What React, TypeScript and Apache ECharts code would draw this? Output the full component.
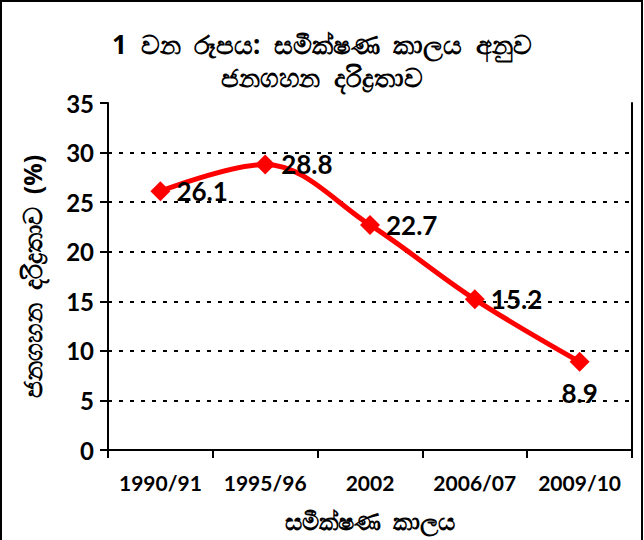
import React, { useEffect, useRef } from "react";
import * as echarts from "echarts";

const categories = ["1990/91", "1995/96", "2002", "2006/07", "2009/10"];
const povertyValues = [26.1, 28.8, 22.7, 15.2, 8.9];
const titleText = "1  වන  රූපය:  සමීක්ෂණ  කාලය  අනුව\nජනගහන  දරිද්‍රතාව";
const yAxisName = "ජනගහන  දරිද්‍රතාව  (%)";
const xAxisName = "සමීක්ෂණ  කාලය";

export default function App() {
  const ref = useRef<HTMLDivElement>(null);
  useEffect(() => {
    if (!ref.current) return;
    const chart = echarts.init(ref.current, null, { renderer: "svg" });
    const font = "Lato, 'Open Sans', 'Noto Sans', sans-serif";
    const sinhala = "'Noto Sans', 'DejaVu Sans', sans-serif";
    const last = povertyValues.length - 1;
    chart.setOption({
      animation: false,
      backgroundColor: "#fff",
      title: {
        text: titleText,
        left: "center",
        top: 22,
        textStyle: {
          fontFamily: sinhala,
          fontWeight: "bold",
          fontSize: 26,
          lineHeight: 33,
          color: "#000",
        },
      },
      graphic: [
        {
          type: "rect",
          shape: { x: 1, y: 1, width: 641, height: 540 },
          style: { fill: "none", stroke: "#000", lineWidth: 2 },
          silent: true,
        },
      ],
      grid: { left: 108, right: 12, top: 103, bottom: 90, containLabel: false },
      xAxis: {
        type: "category",
        data: categories,
        boundaryGap: true,
        name: xAxisName,
        nameLocation: "middle",
        nameGap: 58,
        nameTextStyle: {
          fontFamily: sinhala,
          fontWeight: "bold",
          fontSize: 24,
          color: "#000",
        },
        axisLine: { lineStyle: { color: "#000", width: 2 } },
        axisTick: {
          show: true,
          interval: 0,
          length: 8,
          lineStyle: { color: "#000", width: 2 },
        },
        axisLabel: {
          interval: 0,
          hideOverlap: false,
          margin: 22,
          fontFamily: font,
          fontWeight: "bold",
          fontSize: 21,
          color: "#000",
        },
      },
      yAxis: [
        {
          type: "value",
          min: 0,
          max: 35,
          interval: 5,
          name: yAxisName,
          nameLocation: "middle",
          nameRotate: 90,
          nameGap: 64,
          nameTextStyle: {
            fontFamily: sinhala,
            fontWeight: "bold",
            fontSize: 25,
            color: "#000",
          },
          axisLine: { show: true, lineStyle: { color: "#000", width: 2 } },
          axisTick: { show: true, length: 8, lineStyle: { color: "#000", width: 2 } },
          axisLabel: {
            margin: 14,
            fontFamily: font,
            fontWeight: "bold",
            fontSize: 24,
            color: "#000",
          },
          splitLine: {
            show: true,
            showMinLine: false,
            showMaxLine: false,
            lineStyle: { color: "#000", width: 2, type: [4, 7] },
          },
        },
        {
          type: "value",
          min: 0,
          max: 35,
          interval: 5,
          position: "right",
          axisLine: { show: true, lineStyle: { color: "#000", width: 2 } },
          axisTick: { show: false },
          axisLabel: { show: false },
          splitLine: { show: false },
        },
      ],
      series: [
        {
          type: "line",
          yAxisIndex: 0,
          smooth: 0.35,
          data: povertyValues.map((v, i) =>
            i === last
              ? { value: v, label: { position: "bottom", distance: 8 } }
              : { value: v }
          ),
          symbol: "diamond",
          symbolSize: 20,
          lineStyle: { color: "#ff0000", width: 5 },
          itemStyle: { color: "#ff0000" },
          label: {
            show: true,
            position: "right",
            distance: 6,
            fontFamily: font,
            fontWeight: "bold",
            fontSize: 26,
            color: "#000",
          },
        },
      ],
    });
    return () => chart.dispose();
  }, []);
  return (
    <div
      ref={ref}
      style={{ position: "absolute", left: 0, top: 0, width: 644, height: 540 }}
    />
  );
}
